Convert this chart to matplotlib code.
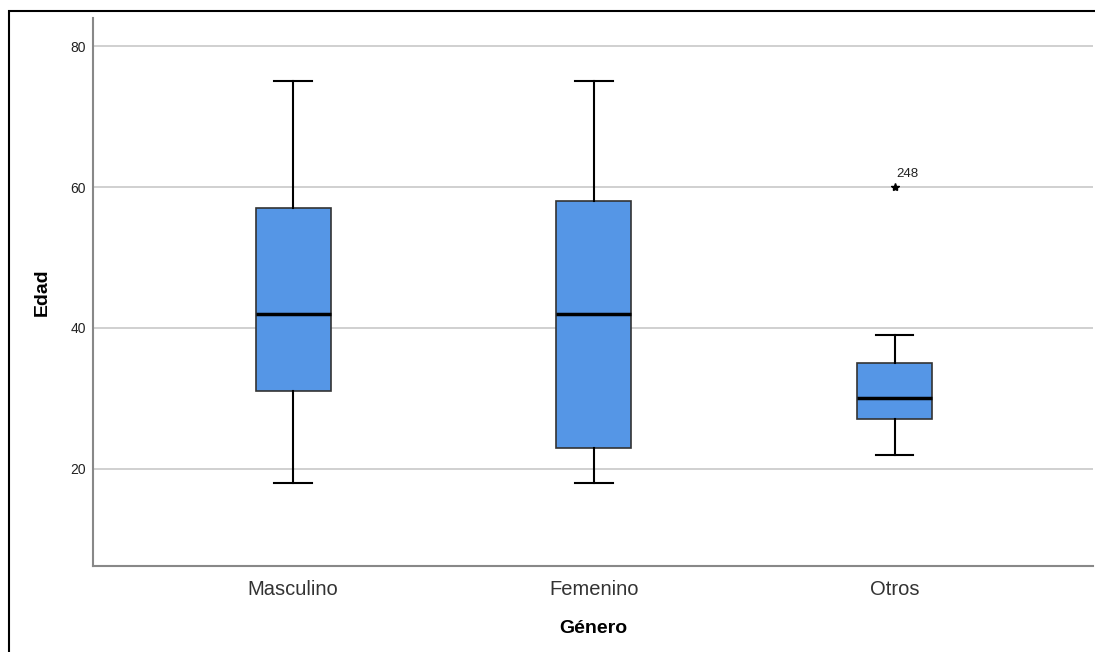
import matplotlib.pyplot as plt
from matplotlib.patches import Rectangle

plt.rcParams['font.family'] = ['Liberation Sans', 'DejaVu Sans']

categories = ['Masculino', 'Femenino', 'Otros']
whislo = [18, 18, 22]
q1 = [31, 23, 27]
med = [42, 42, 30]
q3 = [57, 58, 35]
whishi = [75, 75, 39]
outliers = [[], [], [60]]
outlier_ids = [[], [], ['248']]

stats = []
for i in range(len(categories)):
    stats.append(dict(label=categories[i], whislo=whislo[i], q1=q1[i], med=med[i],
                      q3=q3[i], whishi=whishi[i], fliers=[]))

fig = plt.figure(figsize=(10.95, 6.52), dpi=100)
ax = fig.add_axes([93/1095, 1-566/652, 1000/1095, 548/652])

positions = [1, 2, 3]
ax.bxp(stats, positions=positions, widths=0.25, patch_artist=True, showfliers=False,
       boxprops=dict(facecolor='#5596e6', edgecolor='#333333', linewidth=1.2),
       medianprops=dict(color='black', linewidth=2.5),
       whiskerprops=dict(color='black', linewidth=1.5),
       capprops=dict(color='black', linewidth=1.5), capwidths=0.125, zorder=3)

# outliers (extreme -> star) with case labels
for i, (vals, ids) in enumerate(zip(outliers, outlier_ids)):
    for v, lab in zip(vals, ids):
        ax.plot(positions[i], v, marker='*', color='black', markersize=6, zorder=4)
        ax.annotate(lab, (positions[i], v), xytext=(1.5, 7), textcoords='offset points',
                    fontsize=9.5, color='#222222')

ax.set_xlim(0.334, 3.66)
ax.set_ylim(6.2, 84)
ax.set_yticks([20, 40, 60, 80])
ax.yaxis.grid(True, color='#c8c8c8', linewidth=1.2, zorder=0)
ax.set_axisbelow(True)
ax.tick_params(length=0)
ax.tick_params(axis='y', labelsize=10, colors='#222222', pad=5)
ax.tick_params(axis='x', labelsize=14.5, colors='#333333', pad=10)
for s in ['top', 'right']:
    ax.spines[s].set_visible(False)
for s in ['left', 'bottom']:
    ax.spines[s].set_color('#888888')
    ax.spines[s].set_linewidth(1.5)

ax.set_ylabel('Edad', fontsize=14, fontweight='bold', labelpad=14)
ax.set_xlabel('Género', fontsize=14, fontweight='bold', labelpad=15)

fig.patches.append(Rectangle((9/1095, -0.05), 1.1, 1.05 - 11/652, transform=fig.transFigure,
                             fill=False, edgecolor='black', linewidth=1.5))

fig.savefig('out.png', dpi=100)
